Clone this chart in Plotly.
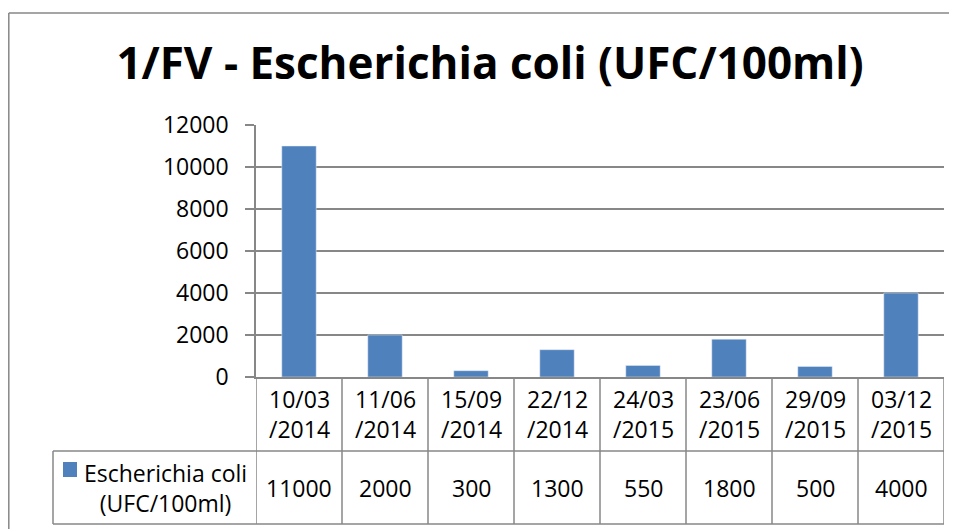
import plotly.graph_objects as go

# data
dates = ["10/03/2014", "11/06/2014", "15/09/2014", "22/12/2014",
         "24/03/2015", "23/06/2015", "29/09/2015", "03/12/2015"]
ecoli = [11000, 2000, 300, 1300, 550, 1800, 500, 4000]
series_name = "Escherichia coli (UFC/100ml)"
y_ticks = [0, 2000, 4000, 6000, 8000, 10000, 12000]

W, H = 957, 529
OFF = 8  # page body margin
# plot area in page pixels
X0, X1, Y0, Y1 = 256, 944, 125, 377
L, R, T, B = X0 - OFF, W - (X1 - OFF), Y0 - OFF, H - (Y1 - OFF)
pw, ph = X1 - X0, Y1 - Y0

def px(x):  # page pixel -> paper x
    return (x - X0) / pw

def py(y):  # page pixel -> paper y
    return (Y1 - y) / ph

grey = "#878787"
blue = "#4F81BD"
font = "Open Sans"

fig = go.Figure(go.Bar(x=dates, y=ecoli, marker_color=blue, width=0.4,
                       name=series_name, showlegend=False))

shapes = []
# table vertical lines
for i in range(len(dates) + 1):
    shapes.append(dict(type="line", xref="x", yref="paper", x0=i - 0.5, x1=i - 0.5,
                       y0=0, y1=py(524), line=dict(color=grey, width=1.5)))
# horizontal lines of table
for yy in (451, 524):
    shapes.append(dict(type="line", xref="paper", yref="paper", x0=px(53), x1=1,
                       y0=py(yy), y1=py(yy), line=dict(color=grey, width=1.5)))
shapes.append(dict(type="line", xref="paper", yref="paper", x0=px(53), x1=px(53),
                   y0=py(451), y1=py(524), line=dict(color=grey, width=1.5)))
# legend key
shapes.append(dict(type="rect", xref="paper", yref="paper", x0=px(63), x1=px(77),
                   y0=py(477), y1=py(462), fillcolor=blue, line=dict(width=0)))
# outer chart border (left and top edges visible)
shapes.append(dict(type="line", xref="paper", yref="paper", x0=px(8.8), x1=px(8.8),
                   y0=py(536), y1=py(13), line=dict(color=grey, width=1.5)))
shapes.append(dict(type="line", xref="paper", yref="paper", x0=px(8.8), x1=px(957),
                   y0=py(13), y1=py(13), line=dict(color=grey, width=1.5)))

tf = dict(size=23, color="black", family=font)
annotations = []
for d, v in zip(dates, ecoli):
    annotations.append(dict(x=d, xref="x", yref="paper", y=py(414),
                            xanchor="center", yanchor="middle",
                            text=d[:5] + "<br>" + d[5:], showarrow=False, font=tf))
    annotations.append(dict(x=d, xref="x", yref="paper", y=py(488),
                            xanchor="center", yanchor="middle",
                            text=str(v), showarrow=False, font=tf))
annotations.append(dict(x=px(165), xref="paper", yref="paper", y=py(488),
                        xanchor="center", yanchor="middle",
                        text="Escherichia coli<br>(UFC/100ml)", showarrow=False, font=tf))

fig.update_layout(
    width=W, height=H,
    margin=dict(l=L, r=R, t=T, b=B),
    paper_bgcolor="white", plot_bgcolor="white",
    title=dict(text="<b>1/FV - Escherichia coli (UFC/100ml)</b>",
               xref="paper", x=px(490), xanchor="center",
               y=1 - (64 - OFF) / H, yanchor="middle",
               font=dict(size=44, color="black", family=font)),
    xaxis=dict(showticklabels=False, ticks="", showgrid=False,
               showline=True, linecolor=grey, linewidth=1.5,
               range=[-0.5, len(dates) - 0.5]),
    yaxis=dict(range=[0, 12000], tickvals=y_ticks, ticktext=[str(t) for t in y_ticks],
               showgrid=True, gridcolor=grey,
               gridwidth=1.5, showline=True, linecolor=grey, linewidth=1.5,
               ticks="outside", ticklen=9, tickcolor=grey, tickwidth=1.5,
               ticklabelstandoff=12, zeroline=False, tickfont=tf),
    shapes=shapes,
    annotations=annotations,
)

fig.write_html("out.html")
